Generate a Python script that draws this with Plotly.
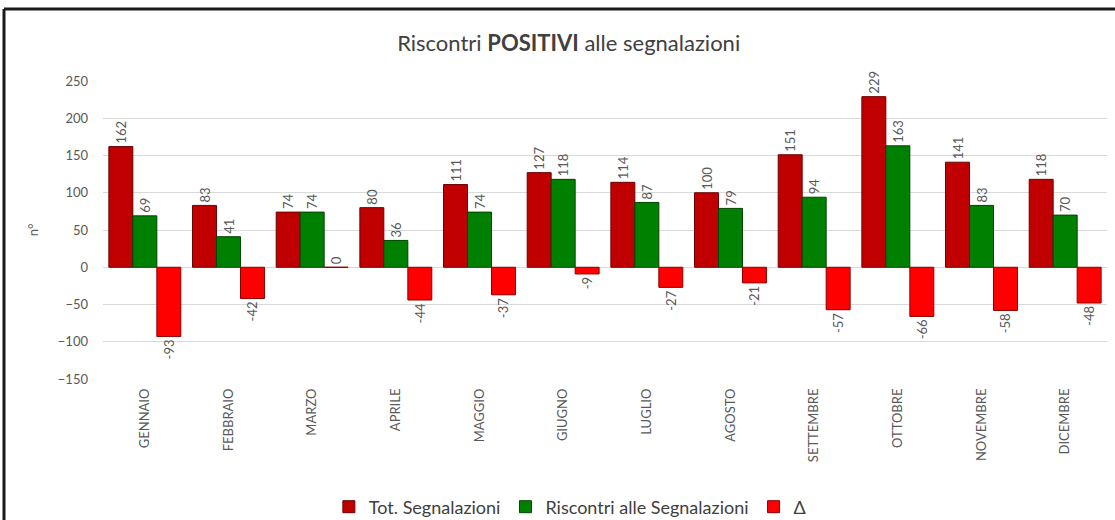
import plotly.graph_objects as go

mesi = ["GENNAIO", "FEBBRAIO", "MARZO", "APRILE", "MAGGIO", "GIUGNO",
        "LUGLIO", "AGOSTO", "SETTEMBRE", "OTTOBRE", "NOVEMBRE", "DICEMBRE"]
tot_segnalazioni = [162, 83, 74, 80, 111, 127, 114, 100, 151, 229, 141, 118]
riscontri = [69, 41, 74, 36, 74, 118, 87, 79, 94, 163, 83, 70]
delta = [-93, -42, 0, -44, -37, -9, -27, -21, -57, -66, -58, -48]
y_ticks = [250, 200, 150, 100, 50, 0, -50, -100, -150]

FONT = "Lato, 'Open Sans', sans-serif"
LABEL_FONT = dict(family=FONT, size=13, color="#595959")

fig = go.Figure()

series = [
    ("Tot. Segnalazioni", tot_segnalazioni, "#C00000", "#6b0000"),
    ("Riscontri alle Segnalazioni", riscontri, "#008000", "#004400"),
    ("Δ", delta, "#FF0000", "#8a0000"),
]
for name, vals, fill, edge in series:
    fig.add_trace(go.Bar(
        name=name, x=mesi, y=vals,
        marker=dict(color=fill, line=dict(color=edge, width=1)),
        text=[str(v) for v in vals], textposition="outside",
        textangle=-90, textfont=LABEL_FONT, cliponaxis=False,
    ))

# frame lines along the top and left edge of the page
fig.add_shape(type="line", xref="paper", yref="paper",
              x0=-0.0986, x1=1.2, y0=1.2416, y1=1.2416,
              line=dict(color="#1a1a1a", width=3))
fig.add_shape(type="line", xref="paper", yref="paper",
              x0=-0.0986, x1=-0.0986, y0=1.2416, y1=-0.6,
              line=dict(color="#1a1a1a", width=3))

fig.update_layout(
    width=1115, height=520,
    margin=dict(l=103, r=8, t=81, b=141, autoexpand=False),
    paper_bgcolor="white", plot_bgcolor="white",
    barmode="group", bargap=0.14, bargroupgap=0,
    title=dict(text="Riscontri <b>POSITIVI</b> alle segnalazioni",
               x=0.51, xanchor="center", y=0.917, yanchor="middle",
               font=dict(family=FONT, size=22, color="#404040")),
    font=dict(family=FONT, color="#595959"),
    showlegend=True,
    legend=dict(orientation="h", x=0.465, xanchor="center", y=-0.4295,
                yanchor="middle", font=dict(family=FONT, size=18, color="#404040"),
                traceorder="normal", itemwidth=30),
    xaxis=dict(tickangle=-90, tickfont=dict(family=FONT, size=13, color="#595959"),
               showgrid=False, showline=False, ticks="", automargin=False,
               ticklabelstandoff=6),
    yaxis=dict(range=[-150, 250], tickvals=y_ticks,
               tickfont=dict(family=FONT, size=13, color="#595959"),
               gridcolor="#d9d9d9", gridwidth=1, zeroline=True,
               zerolinecolor="#d9d9d9", zerolinewidth=1,
               showline=False, ticks="", ticklabelstandoff=14, automargin=False,
               title=dict(text="n°", font=dict(family=FONT, size=13, color="#595959"),
                          standoff=16)),
)

fig.write_html("out.html")
